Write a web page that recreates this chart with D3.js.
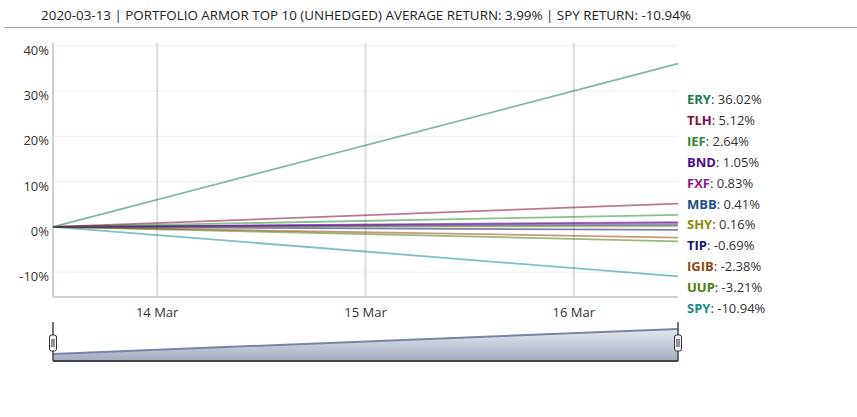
<!DOCTYPE html>
<html lang="en">
<head>
<meta charset="UTF-8">
<title>Portfolio Armor Top 10</title>
<script src="https://d3js.org/d3.v7.min.js"></script>
<style>
  body { margin: 0; padding: 0; background: #fff; }
  svg { font-family: "Open Sans", "Noto Sans", sans-serif; }
</style>
</head>
<body>
<svg id="chart" width="857" height="417"></svg>
<script>
// data
var titleText = "2020-03-13 | PORTFOLIO ARMOR TOP 10 (UNHEDGED) AVERAGE RETURN: 3.99% | SPY RETURN: -10.94%";
var dates = ["2020-03-13T12:00", "2020-03-16T12:00"];
var tickers = ["ERY", "TLH", "IEF", "BND", "FXF", "MBB", "SHY", "TIP", "IGIB", "UUP", "SPY"];
var finalReturns = [36.02, 5.12, 2.64, 1.05, 0.83, 0.41, 0.16, -0.69, -2.38, -3.21, -10.94];
var labelColors = ["#1b7d4e", "#7c0d40", "#2e8b2e", "#4c1190", "#8e1b8e", "#1f4f8c", "#8c8a06", "#121279", "#8c4a0c", "#4e7c0c", "#1a8c8c"];
var yTicks = [-10, 0, 10, 20, 30, 40];
var xTicks = ["2020-03-14", "2020-03-15", "2020-03-16"];

var parse = d3.timeParse("%Y-%m-%dT%H:%M");
var parseDay = d3.timeParse("%Y-%m-%d");

var series = tickers.map(function(t, i) {
  return { name: t, color: labelColors[i], values: [
    { date: parse(dates[0]), value: 0 },
    { date: parse(dates[1]), value: finalReturns[i] }
  ]};
});

var svg = d3.select("#chart");
var plotLeft = 53, plotRight = 678, plotTop = 43, plotBottom = 297;

var x = d3.scaleTime().domain([parse(dates[0]), parse(dates[1])]).range([plotLeft, plotRight]);
var y = d3.scaleLinear().domain([-15.5, 40.6]).range([plotBottom, plotTop]);

// title
svg.append("text")
  .attr("x", 366).attr("y", 20)
  .attr("text-anchor", "middle")
  .style("font-size", "13.4px")
  .style("fill", "#222")
  .text(titleText);
svg.append("line")
  .attr("x1", 4).attr("x2", 857).attr("y1", 27.5).attr("y2", 27.5)
  .style("stroke", "#aaa").style("stroke-width", 1);

// horizontal grid
svg.append("g").selectAll("line").data(yTicks).enter().append("line")
  .attr("x1", plotLeft).attr("x2", plotRight)
  .attr("y1", function(d) { return y(d); })
  .attr("y2", function(d) { return y(d); })
  .style("stroke", "#eeeeee").style("stroke-width", 1);

// vertical grid
svg.append("g").selectAll("line").data(xTicks).enter().append("line")
  .attr("x1", function(d) { return x(parseDay(d)); })
  .attr("x2", function(d) { return x(parseDay(d)); })
  .attr("y1", plotTop).attr("y2", plotBottom)
  .style("stroke", "#dcdcdc").style("stroke-width", 2);

// axes lines
svg.append("line").attr("x1", plotLeft).attr("x2", plotLeft).attr("y1", plotTop).attr("y2", plotBottom)
  .style("stroke", "#cfcfcf").style("stroke-width", 2);
svg.append("line").attr("x1", plotLeft).attr("x2", plotRight).attr("y1", plotBottom).attr("y2", plotBottom)
  .style("stroke", "#cfcfcf").style("stroke-width", 2);

// y labels
svg.append("g").selectAll("text").data(yTicks).enter().append("text")
  .attr("x", plotLeft - 4)
  .attr("y", function(d) { return y(d) + 9; })
  .attr("text-anchor", "end")
  .style("font-size", "13px").style("fill", "#333")
  .text(function(d) { return d + "%"; });

// x labels
svg.append("g").selectAll("text").data(xTicks).enter().append("text")
  .attr("x", function(d) { return x(parseDay(d)); })
  .attr("y", 317)
  .attr("text-anchor", "middle")
  .style("font-size", "13px").style("fill", "#333")
  .text(function(d) { return d3.timeFormat("%-d %b")(parseDay(d)); });

// lines
var line = d3.line()
  .x(function(d) { return x(d.date); })
  .y(function(d) { return y(d.value); });

svg.append("g").selectAll("path").data(series.slice().reverse()).enter().append("path")
  .attr("d", function(d) { return line(d.values); })
  .style("fill", "none")
  .style("stroke", function(d) { return d.color; })
  .style("stroke-width", 1.8)
  .style("stroke-opacity", 0.55);

// legend labels
var legend = svg.append("g").selectAll("text").data(series).enter().append("text")
  .attr("x", 687)
  .attr("y", function(d, i) { return 104 + i * 20.9; })
  .style("font-size", "13px");
legend.append("tspan")
  .style("font-weight", "bold")
  .style("fill", function(d) { return d.color; })
  .text(function(d) { return d.name; });
legend.append("tspan")
  .style("fill", "#333")
  .text(function(d) { return ": " + d.values[1].value.toFixed(2) + "%"; });

// navigator
var navTop = 327, navBottom = 361;
var ny = d3.scaleLinear().domain([-10.1, 38.9]).range([navBottom, navTop]);
var defs = svg.append("defs");
var grad = defs.append("linearGradient").attr("id", "navGrad")
  .attr("x1", 0).attr("x2", 0).attr("y1", 0).attr("y2", 1);
grad.append("stop").attr("offset", "0%").attr("stop-color", "#e6e9f0");
grad.append("stop").attr("offset", "100%").attr("stop-color", "#a3abc0");

var navArea = d3.area()
  .x(function(d) { return x(d.date); })
  .y0(navBottom)
  .y1(function(d) { return ny(d.value); });
var navLine = d3.line()
  .x(function(d) { return x(d.date); })
  .y(function(d) { return ny(d.value); });

svg.append("path").attr("d", navArea(series[0].values))
  .style("fill", "url(#navGrad)");
svg.append("path").attr("d", navLine(series[0].values))
  .style("fill", "none").style("stroke", "#7886a4").style("stroke-width", 2);
svg.append("line").attr("x1", plotLeft).attr("x2", plotRight).attr("y1", navBottom).attr("y2", navBottom)
  .style("stroke", "#444").style("stroke-width", 2);
svg.append("line").attr("x1", plotLeft).attr("x2", plotLeft).attr("y1", 322).attr("y2", navBottom)
  .style("stroke", "#444").style("stroke-width", 1.5);
svg.append("line").attr("x1", plotRight).attr("x2", plotRight).attr("y1", 322).attr("y2", navBottom)
  .style("stroke", "#444").style("stroke-width", 1.5);

// handles
[plotLeft, plotRight].forEach(function(hx) {
  var h = svg.append("g").attr("transform", "translate(" + hx + ",343)");
  h.append("rect").attr("x", -3.5).attr("y", -8).attr("width", 7).attr("height", 16)
    .attr("rx", 2).style("fill", "#f4f4f4").style("stroke", "#333").style("stroke-width", 1);
  h.append("line").attr("x1", -1).attr("x2", -1).attr("y1", -4).attr("y2", 4).style("stroke", "#333");
  h.append("line").attr("x1", 1).attr("x2", 1).attr("y1", -4).attr("y2", 4).style("stroke", "#333");
});
</script>
</body>
</html>
